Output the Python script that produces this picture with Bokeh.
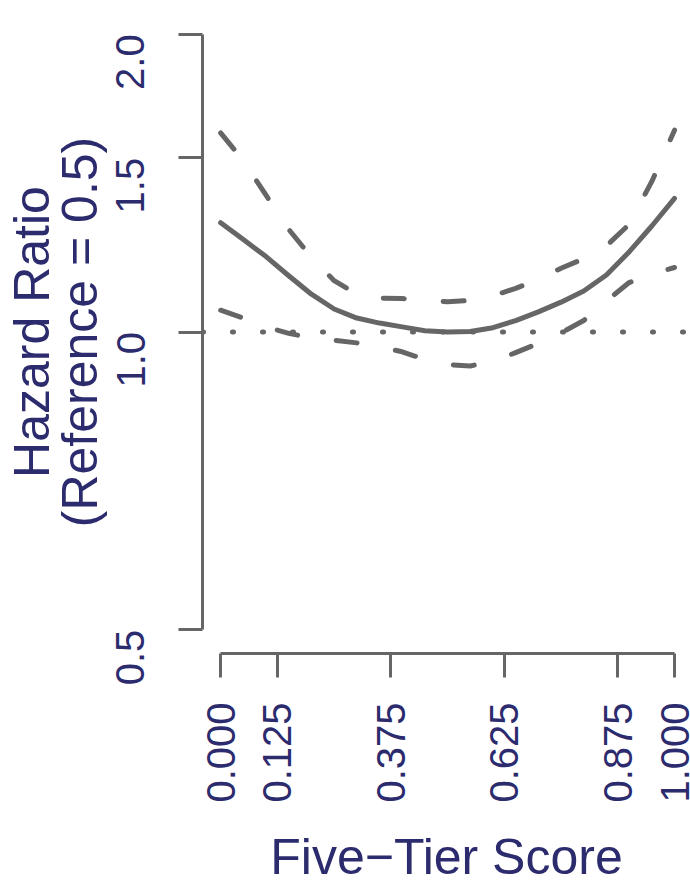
import math
from bokeh.plotting import figure
from bokeh.models import FixedTicker, Span, Range1d
from bokeh.embed import file_html
from bokeh.resources import INLINE

# ---- data ----
score = [0.0, 0.05, 0.10, 0.15, 0.20, 0.25, 0.30, 0.35, 0.40, 0.45, 0.50,
         0.55, 0.60, 0.65, 0.70, 0.75, 0.80, 0.85, 0.90, 0.95, 1.0]
hr_fit = [1.29, 1.24, 1.192, 1.14, 1.092, 1.055, 1.033, 1.021, 1.012, 1.003, 1.0,
          1.001, 1.01, 1.027, 1.048, 1.072, 1.10, 1.142, 1.205, 1.28, 1.365]
hr_upper = [1.59, 1.49, 1.375, 1.27, 1.19, 1.127, 1.092, 1.082, 1.081, 1.077, 1.073,
            1.076, 1.088, 1.107, 1.13, 1.16, 1.186, 1.222, 1.285, 1.42, 1.60]
hr_lower = [1.052, 1.033, 1.012, 0.997, 0.986, 0.981, 0.975, 0.966, 0.955, 0.938, 0.927,
            0.924, 0.934, 0.953, 0.974, 0.998, 1.027, 1.075, 1.122, 1.145, 1.162]
reference_hr = 1.0

x_ticks = [0.0, 0.125, 0.375, 0.625, 0.875, 1.0]
x_tick_labels = ["0.000", "0.125", "0.375", "0.625", "0.875", "1.000"]
y_ticks = [0.5, 1.0, 1.5, 2.0]
y_tick_labels = ["0.5", "1.0", "1.5", "2.0"]

GRAY = "#666666"
TXT = "#2b2b6e"
FONT = "Liberation Sans"

# R-style 4% range extension
ext = 0.04 * (math.log(2.0) - math.log(0.5))
y_lo = math.exp(math.log(0.5) - ext)
y_hi = math.exp(math.log(2.0) + ext)

p = figure(width=690, height=887,
           x_range=Range1d(-0.04, 1.0352), y_range=Range1d(y_lo, y_hi),
           y_axis_type="log", output_backend="svg", toolbar_location=None,
           min_border_left=201, min_border_right=0, min_border_top=10,
           min_border_bottom=233)
p.grid.visible = False
p.outline_line_color = None
p.background_fill_color = "white"
p.border_fill_color = "white"

# reference line
p.add_layout(Span(location=reference_hr, dimension="width", line_color=GRAY,
                  line_width=5, line_dash="1 29", line_cap="round"))

p.line(score, hr_upper, line_color=GRAY, line_width=5, line_dash="21 39", line_cap="round")
p.line(score, hr_lower, line_color=GRAY, line_width=5, line_dash="21 39", line_cap="round")
p.line(score, hr_fit, line_color=GRAY, line_width=5, line_cap="round", line_join="round")

for ax in (p.xaxis[0], p.yaxis[0]):
    ax.axis_line_color = GRAY
    ax.axis_line_width = 3
    ax.major_tick_line_color = GRAY
    ax.major_tick_line_width = 3
    ax.major_tick_in = 0
    ax.major_tick_out = 24
    ax.minor_tick_line_color = None
    ax.major_label_text_font = FONT
    ax.major_label_text_font_size = "40px"
    ax.major_label_text_color = TXT
    ax.axis_label_text_font = FONT
    ax.axis_label_text_font_style = "normal"
    ax.axis_label_text_font_size = "50px"
    ax.axis_label_text_color = TXT

xa = p.xaxis[0]
xa.ticker = FixedTicker(ticks=x_ticks)
xa.major_label_overrides = {t: l for t, l in zip(x_ticks, x_tick_labels)}
xa.major_label_orientation = math.pi / 2
xa.major_label_standoff = 25
xa.bounds = (x_ticks[0], x_ticks[-1])
xa.axis_label = "Five\u2212Tier Score"
xa.axis_label_standoff = 23

ya = p.yaxis[0]
ya.ticker = FixedTicker(ticks=y_ticks)
ya.major_label_overrides = {t: l for t, l in zip(y_ticks, y_tick_labels)}
ya.major_label_orientation = math.pi / 2
ya.major_label_standoff = 48
ya.bounds = (y_ticks[0], y_ticks[-1])
ya.axis_label = "Hazard Ratio\n(Reference = 0.5)"
ya.axis_label_text_line_height = 0.85
ya.axis_label_standoff = -8

open("out.html", "w").write(file_html(p, INLINE))
